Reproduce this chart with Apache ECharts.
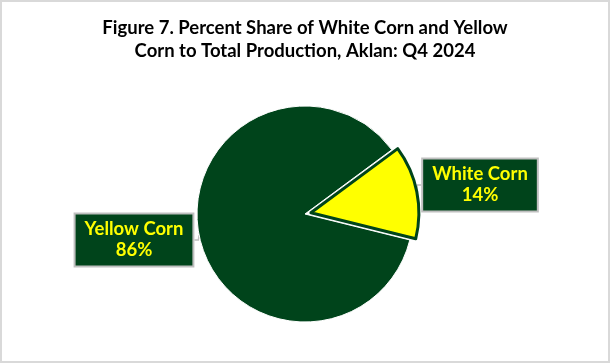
<!DOCTYPE html>
<html>
<head>
<meta charset="utf-8">
<script src="https://cdn.jsdelivr.net/npm/echarts@6/dist/echarts.min.js"></script>
<style>
html,body{margin:0;padding:0;background:#fff;}
#c{width:610px;height:363px;}
</style>
</head>
<body>
<div id="c"></div>
<script>
const titleText = 'Figure 7. Percent Share of White Corn and Yellow\nCorn to Total Production, Aklan: Q4 2024';
const categories = ['White Corn', 'Yellow Corn'];
const shares = [14, 86];
const colors = ['#FFFF00', '#00441B'];

const chart = echarts.init(document.getElementById('c'), null, {renderer: 'canvas'});

const cx = 305, cy = 214, R = 108, startAngle = 36.5, explode = 6;
const labelPos = [
  {x: 480, y: 185},
  {x: 134, y: 240}
];
// bisector of the exploded (first) slice
const total = shares.reduce((a, b) => a + b, 0);
const midDeg = startAngle - shares[0] / total * 180;
const ex = cx + explode * Math.cos(midDeg * Math.PI / 180);
const ey = cy - explode * Math.sin(midDeg * Math.PI / 180);

const labelBase = {
  show: true,
  formatter: p => p.name + '\n' + p.value + '%',
  fontFamily: 'Lato',
  fontWeight: 'bold',
  fontSize: 18.5,
  lineHeight: 21,
  color: '#FFFF00',
  backgroundColor: '#00441B',
  borderColor: '#BFBFBF',
  borderWidth: 2,
  padding: [5, 9, 4, 9],
  align: 'center'
};
const lineBase = {show: true, length: 4, length2: 4, lineStyle: {color: '#BFBFBF', width: 1.5}};

function makeSeries(activeIdx, center) {
  return {
    type: 'pie',
    center: center,
    radius: R,
    startAngle: startAngle,
    clockwise: true,
    silent: true,
    data: categories.map((c, i) => {
      const on = i === activeIdx;
      return {
        name: c,
        value: shares[i],
        itemStyle: on
          ? (i === 0 ? {color: colors[i], borderColor: '#00441B', borderWidth: 3}
                     : {color: colors[i], borderColor: '#fff', borderWidth: 1})
          : {color: 'rgba(0,0,0,0)', borderWidth: 0},
        label: on ? labelBase : {show: false},
        labelLine: on ? lineBase : {show: false}
      };
    }),
    labelLayout: p => (p.dataIndex === activeIdx
      ? {x: labelPos[p.dataIndex].x, y: labelPos[p.dataIndex].y, align: 'center', verticalAlign: 'middle'}
      : {})
  };
}

chart.setOption({
  animation: false,
  backgroundColor: '#fff',
  title: {
    text: titleText,
    left: 'center',
    top: 12,
    textStyle: {fontFamily: 'Lato', fontWeight: 'bold', fontSize: 18.5, color: '#000', lineHeight: 23}
  },
  graphic: [{
    type: 'rect',
    shape: {x: 1, y: 1, width: 608, height: 361},
    style: {fill: 'none', stroke: '#D9D9D9', lineWidth: 2},
    silent: true
  }],
  series: [
    makeSeries(1, [cx, cy]),
    makeSeries(0, [ex, ey])
  ]
});
</script>
</body>
</html>
